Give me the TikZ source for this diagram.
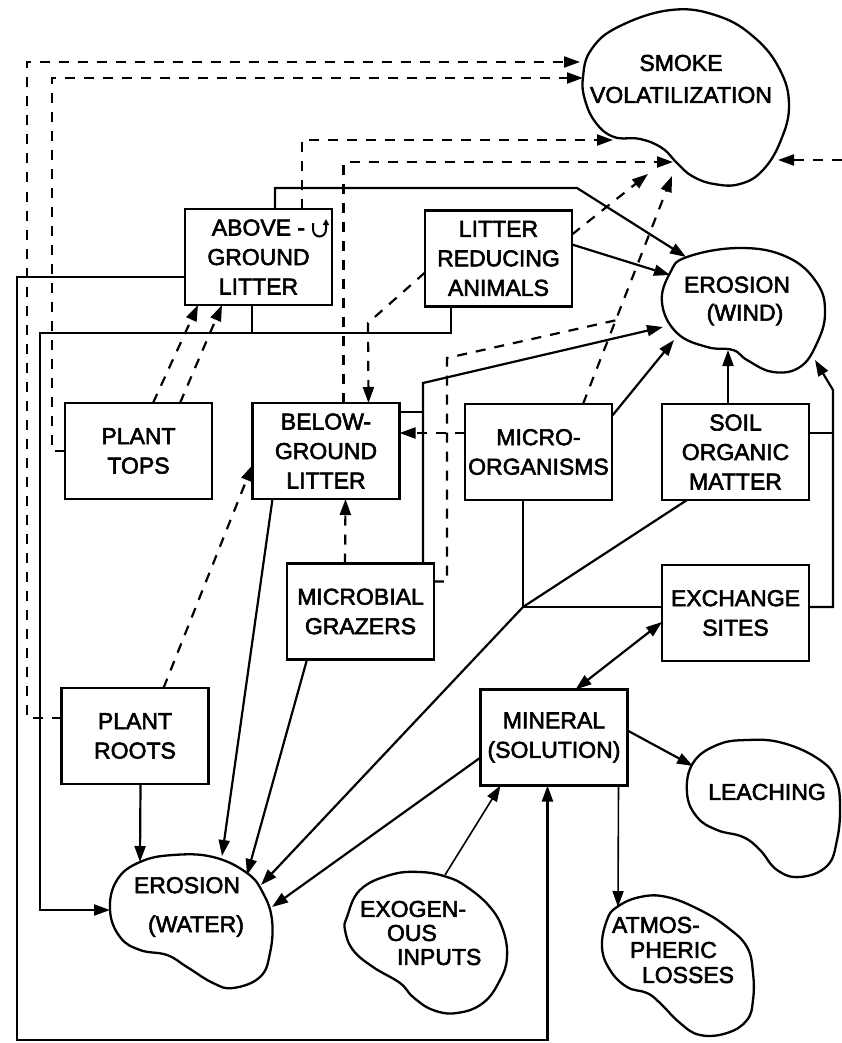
\documentclass[tikz,border=0pt]{standalone}
\usepackage{fontspec}
\setmainfont{Liberation Sans}[FakeBold=2.5]
\usetikzlibrary{arrows.meta,calc}
\begin{document}
\begin{tikzpicture}[x=1pt,y=-1pt,
  box/.style={draw, line width=2.6pt, minimum width=147pt, minimum height=96pt, inner sep=0pt, outer sep=0pt, align=center, font=\fontsize{23}{29.5}\selectfont},
  lbl/.style={inner sep=0pt, outer sep=0pt, align=center},
  blob/.style={line width=2.3pt},
  ln/.style={line width=2.2pt},
  arr/.style={ln, -{Triangle[length=16pt,width=11pt]}},
  dbl/.style={ln, {Triangle[length=16pt,width=11pt]}-{Triangle[length=16pt,width=11pt]}},
  dln/.style={ln, dash pattern=on 10pt off 9pt},
  darr/.style={arr, dash pattern=on 10pt off 9pt}
]
\useasboundingbox (0,0) rectangle (842,1043);

% ---------- boxes ----------
\node[box] (agl)  at (258.5,257)   {ABOVE -\hspace{22pt}\\GROUND\\LITTER};
\node[box] (lra)  at (498.5,258.5) {LITTER\\REDUCING\\ANIMALS};
\node[box] (ptop) at (138.5,451)   {PLANT\\TOPS};
\node[box] (bgl)  at (326,451)     {BELOW-\\GROUND\\LITTER};
\node[box] (mo)   at (538.5,452)   {MICRO-\\ORGANISMS};
\node[box] (som)  at (735.5,452)   {SOIL\\ORGANIC\\MATTER};
\node[box] (mg)   at (360.5,611.5) {MICROBIAL\\GRAZERS};
\node[box] (ex)   at (735.5,613)   {EXCHANGE\\SITES};
\node[box] (pr)   at (135,736)     {PLANT\\ROOTS};
\node[box] (min)  at (554,737.5)   {MINERAL\\(SOLUTION)};

% small hook glyph after "ABOVE -"
\draw[line width=2pt, -{Triangle[length=6pt,width=6pt]}] (313,223) -- (313,229) .. controls (313,239) and (326,239) .. (326,229) -- (326,219);

% ---------- blobs ----------
\draw[blob] plot[smooth cycle, tension=0.7] coordinates {(671,10) (618,27) (591,50) (583,77) (585,100) (596,123) (614,137) (640,139) (662,148) (677,163) (692,176) (714,184) (740,184) (763,170) (781,140) (789,105) (780,70) (755,38) (718,16)};
\node[lbl, font=\fontsize{23}{32}\selectfont] (smoke) at (681,79) {SMOKE\\VOLATILIZATION};

\draw[blob] plot[smooth cycle, tension=0.7] coordinates {(687,257) (740,248) (787,257) (817,283) (825,313) (817,343) (800,367) (773,372) (747,360) (733,350) (707,347) (677,333) (662,303) (670,273)};
\node[lbl, font=\fontsize{23}{28}\selectfont] (wind) at (737,301) {EROSION\\\hspace*{16pt}(WIND)};

\draw[blob] plot[smooth cycle, tension=0.7] coordinates {(110,910) (117,880) (140,862) (173,855) (213,857) (247,873) (263,893) (272,920) (270,953) (260,977) (233,988) (213,983) (187,967) (167,955) (140,950) (120,937)};
\node[lbl, font=\fontsize{23}{39}\selectfont] (water) at (187,907) {EROSION\\\hspace*{18pt}(WATER)};

\draw[blob] plot[smooth cycle, tension=0.7] coordinates {(693,763) (717,745) (747,740) (783,743) (820,760) (836,780) (840,807) (837,840) (827,866) (800,877) (777,870) (760,850) (743,837) (717,830) (697,817) (687,793)};
\node[lbl, font=\fontsize{23}{28}\selectfont] (leach) at (767,792) {LEACHING};

\draw[blob] plot[smooth cycle, tension=0.7] coordinates {(617,907) (640,897) (667,897) (700,910) (727,927) (747,947) (753,973) (753,1000) (747,1020) (727,1033) (700,1035) (680,1023) (660,1003) (647,993) (627,987) (610,970) (602,947) (607,920)};
\node[lbl, align=left, anchor=west, font=\fontsize{23}{25}\selectfont] (atmos) at (612,950) {ATMOS-\\\hspace*{18pt}PHERIC\\\hspace*{30pt}LOSSES};

\draw[blob] plot[smooth cycle, tension=0.7] coordinates {(347,917) (360,890) (390,875) (420,872) (447,877) (467,887) (490,907) (503,930) (507,957) (500,980) (483,1003) (457,1013) (433,1010) (413,997) (400,983) (373,967) (353,950) (345,930)};
\node[lbl, align=left, anchor=west, font=\fontsize{23}{24}\selectfont] (exo) at (360,933) {EXOGEN-\\\hspace*{27pt}OUS\\\hspace*{37pt}INPUTS};

% ---------- helper coordinates ----------
\coordinate (moT) at ($(mo.north west)+(118,0)$);
\coordinate (smB) at ($(smoke)+(-9,97)$);
\coordinate (J2) at ($(moT)!0.367!(smB)$);
\coordinate (J) at ($(mo.south west)+(58,107)$);
\coordinate (rEdge) at (842,160);

% ---------- solid connectors ----------
\draw[arr] ($(agl.north west)+(90,0)$) |- (577,188) -- ($(wind)+(-51,-44)$);
\draw[arr] ($(lra.north east)+(0,34)$) -- ($(wind)+(-67,-26)$);
\draw[arr] ($(mg.north west)+(136,0)$) -- (423,383) -- ($(wind)+(-74,26)$);
\draw[ln] ($(bgl.north east)+(0,9)$) -- (423,412);
\draw[arr] ($(mo.north east)+(0,12)$) -- ($(wind)+(-63,39)$);
\draw[arr] ($(som.north west)+(66,0)$) -- ($(wind)+(-9,49)$);
\draw[arr] ($(ex.north east)+(0,42)$) -| (833,390) -- ($(wind)+(78,59)$);
\draw[ln] ($(som.north east)+(0,29)$) -- (833,433);

\draw[arr] ($(agl.north west)+(0,68)$) -- (17,277) -- (17,1040) -| ($(min.south west)+(67,0)$);
\draw[arr] ($(lra.south west)+(26,0)$) |- (40,333) |- ($(water)+(-77,3)$);
\draw[ln] ($(agl.south west)+(67,0)$) -- ++(0,28);

\draw[arr] ($(pr.south west)+(79,0)$) -- ($(water)+(-47,-45)$);
\draw[arr] ($(bgl.south west)+(20,0)$) -- ($(water)+(35,-51)$);
\draw[arr] ($(mg.south west)+(20,0)$) -- ($(water)+(60,-32)$);
\draw[ln] ($(mo.south west)+(58,0)$) -- (J);
\draw[ln] ($(som.south west)+(25,0)$) -- (J);
\draw[ln] ($(ex.north west)+(0,42)$) -- (J);
\draw[arr] (J) -- ($(water)+(74,-22)$);
\draw[arr] ($(min.north west)+(0,68)$) -- ($(water)+(85,0)$);

\draw[dbl] ($(min.north west)+(95,0)$) -- ($(ex.north west)+(0,57)$);
\draw[arr] ($(min.north east)+(0,41)$) -- ($(leach)+(-74,-26)$);
\draw[arr, line width=1.6pt] ($(min.south west)+(138,0)$) -- ($(atmos.west)+(6,-43)$);
\draw[arr, line width=1.6pt] ($(exo.west)+(85,-58)$) -- ($(min.south west)+(20,0)$);

% ---------- dashed connectors ----------
\draw[darr] ($(pr.north west)+(0,30)$) -| (27,62) -- ($(smoke)+(-101,-17)$);
\draw[darr] (ptop.west) -| (52,78) -- ($(smoke)+(-98,-1)$);
\draw[darr] ($(agl.north west)+(117,0)$) |- ($(smoke)+(-68,61)$);
\draw[darr] ($(bgl.north west)+(91,0)$) |- ($(smoke)+(-8,83)$);
\draw[darr] ($(lra.north east)+(0,24)$) -- ($(smoke)+(-33,95)$);
\draw[darr] (moT) -- (smB);
\draw[dln] ($(mg.north east)+(0,18)$) -| (447,358) -- (J2);
\draw[darr] (rEdge) -- ($(smoke)+(97,81)$);

\draw[darr] ($(mo.north west)+(0,29)$) -- ($(bgl.north east)+(0,30)$);
\draw[darr] ($(lra.north west)+(0,62)$) -- (368,323) -- ($(bgl.north west)+(116,0)$);
\draw[darr] ($(mg.north west)+(58,0)$) -- ($(bgl.south west)+(93,0)$);
\draw[darr] ($(pr.north west)+(102,0)$) -- ($(bgl.north west)+(0,62)$);
\draw[darr] ($(ptop.north west)+(88,0)$) -- ($(agl.south west)+(13,0)$);
\draw[darr] ($(ptop.north west)+(115,0)$) -- ($(agl.south west)+(37,0)$);
\end{tikzpicture}
\end{document}
